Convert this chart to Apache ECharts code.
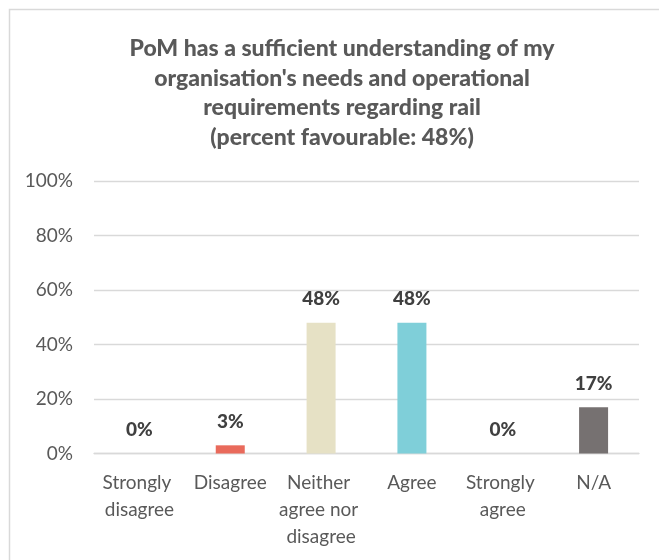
<!DOCTYPE html>
<html>
<head>
<meta charset="utf-8">
<script src="https://cdn.jsdelivr.net/npm/echarts@6/dist/echarts.min.js"></script>
<style>
  html, body { margin: 0; padding: 0; background: #ffffff; }
  #chart { width: 659px; height: 560px; }
</style>
</head>
<body>
<div id="chart"></div>
<script>
// Survey responses for the rail-understanding question
const titleLines = [
  "PoM has a sufficient understanding of my",
  "organisation's needs and operational",
  "requirements regarding rail",
  "(percent favourable: 48%)"
];
const categories = ["Strongly disagree", "Disagree", "Neither agree nor disagree", "Agree", "Strongly agree", "N/A"];
const values = [0, 3, 48, 48, 0, 17];
const barColors = ["#A5A5A5", "#E96A5B", "#E6E1C5", "#7FCFD9", "#A5A5A5", "#767171"];
const yTicks = [0, 20, 40, 60, 80, 100];

const FONT = "Lato";
const chart = echarts.init(document.getElementById("chart"), null, { renderer: "canvas" });

chart.setOption({
  animation: false,
  backgroundColor: "#ffffff",
  textStyle: { fontFamily: FONT },
  graphic: [{
    type: "rect",
    left: 7, top: 7,
    shape: { width: 700, height: 600 },
    style: { fill: "none", stroke: "#D9D9D9", lineWidth: 1.5 },
    silent: true
  }],
  title: {
    text: titleLines.join("\n"),
    left: 337,
    top: 29,
    textAlign: "center",
    textStyle: {
      fontFamily: FONT,
      fontSize: 23,
      fontWeight: 900,
      color: "#595959",
      lineHeight: 29.5
    }
  },
  grid: { left: 94, right: 20, top: 181, bottom: 106.5, containLabel: false },
  xAxis: {
    type: "category",
    data: categories,
    axisLine: { show: true, lineStyle: { color: "#D9D9D9", width: 1.3 } },
    axisTick: { show: false },
    axisLabel: {
      interval: 0,
      margin: 16,
      color: "#595959",
      fontFamily: FONT,
      fontSize: 19,
      lineHeight: 27,
      width: 86,
      overflow: "break",
      align: "center"
    }
  },
  yAxis: {
    type: "value",
    min: yTicks[0],
    max: yTicks[yTicks.length - 1],
    interval: yTicks[1] - yTicks[0],
    axisLine: { show: false },
    axisTick: { show: false },
    splitLine: { lineStyle: { color: "#D9D9D9", width: 1.3 } },
    axisLabel: {
      margin: 21,
      color: "#595959",
      fontFamily: FONT,
      fontSize: 19,
      formatter: v => v + "%"
    }
  },
  series: [{
    type: "bar",
    barWidth: 29,
    data: values.map((v, i) => ({ value: v, itemStyle: { color: barColors[i] } })),
    label: {
      show: true,
      position: "top",
      distance: 14,
      color: "#404040",
      fontFamily: FONT,
      fontSize: 19,
      fontWeight: 900,
      formatter: p => p.value + "%"
    }
  }]
});
</script>
</body>
</html>
